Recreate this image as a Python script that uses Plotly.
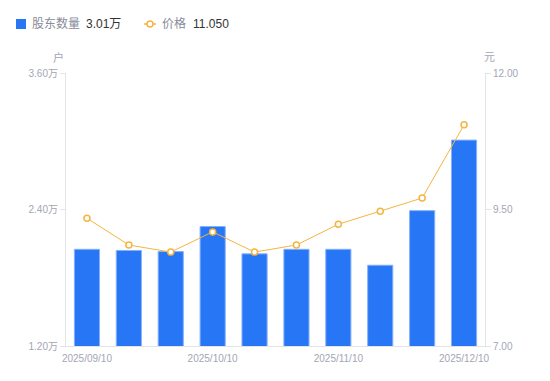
import plotly.graph_objects as go

dates = ["2025/09/10", "2025/09/20", "2025/09/30", "2025/10/10", "2025/10/20",
         "2025/10/31", "2025/11/10", "2025/11/20", "2025/11/30", "2025/12/10"]
holders = [2.05, 2.04, 2.03, 2.25, 2.01, 2.05, 2.05, 1.91, 2.39, 3.01]  # 万户
price = [9.34, 8.85, 8.72, 9.09, 8.72, 8.85, 9.23, 9.47, 9.71, 11.05]
x_ticks = ["2025/09/10", "2025/10/10", "2025/11/10", "2025/12/10"]
left_ticks = [1.2, 2.4, 3.6]
left_labels = ["1.20万", "2.40万", "3.60万"]
right_ticks = [7.0, 9.5, 12.0]
right_labels = ["7.00", "9.50", "12.00"]
legend_names = ["股东数量", "价格"]
legend_values = ["3.01万", "11.050"]

GREY = "#a3a6b4"
LGREY = "#888b99"
DARK = "#333333"
BLUE = "#2776f5"
ORANGE = "#f5b540"
FONT = "Liberation Sans, Noto Sans CJK SC, sans-serif"

OFF = 8  # page body margin
W, H = 550, 381
# plot area in page pixels: x 66..485, y 73..346
L, T = 66 - OFF, 73 - OFF
R, B = W - (485 - OFF), H - (346 - OFF)
PW, PH = W - L - R, H - T - B


def px(x):
    return (x - OFF - L) / PW


def py(y):
    return (H - B - (y - OFF)) / PH


fig = go.Figure()
fig.add_trace(go.Bar(
    x=dates, y=holders, yaxis="y", name=legend_names[0],
    marker=dict(color=BLUE, line=dict(color="#86b0fa", width=1)),
    width=0.6,
))
fig.add_trace(go.Scatter(
    x=dates, y=price, yaxis="y2", mode="lines+markers", name=legend_names[1],
    line=dict(color=ORANGE, width=1),
    marker=dict(symbol="circle", size=6, color="white", line=dict(color=ORANGE, width=1.5)),
))

axis_common = dict(showline=True, linecolor="#e3e4e8", linewidth=1, showgrid=False,
                   zeroline=False, automargin=False)

fig.update_layout(
    width=W, height=H,
    margin=dict(l=L, r=R, t=T, b=B, autoexpand=False),
    paper_bgcolor="white", plot_bgcolor="white",
    font=dict(family=FONT, size=11, color=GREY),
    showlegend=False,
    xaxis=dict(type="category", categoryorder="array", categoryarray=dates,
               tickvals=x_ticks, ticktext=x_ticks, ticks="", ticklabelstandoff=3,
               tickfont=dict(size=10, color=GREY), range=[-0.5, 9.5], **axis_common),
    yaxis=dict(range=[1.2, 3.6], tickvals=left_ticks, ticktext=left_labels,
               ticks="outside", ticklen=5, tickcolor="#e3e4e8",
               tickfont=dict(size=10, color=GREY), **axis_common),
    yaxis2=dict(range=[7.0, 12.0], tickvals=right_ticks, ticktext=right_labels,
                overlaying="y", side="right", ticks="outside", ticklen=5,
                tickcolor="#e3e4e8", tickfont=dict(size=10, color=GREY), **axis_common),
)

shapes = [
    dict(type="rect", xref="paper", yref="paper", x0=px(16), x1=px(26), y0=py(29), y1=py(19),
         fillcolor=BLUE, line=dict(width=0)),
    dict(type="line", xref="paper", yref="paper", x0=px(144), x1=px(156), y0=py(24), y1=py(24),
         line=dict(color=ORANGE, width=1.5)),
    dict(type="circle", xref="paper", yref="paper", x0=px(147), x1=px(153), y0=py(27), y1=py(21),
         fillcolor="white", line=dict(color=ORANGE, width=1.5)),
]
anns = [
    dict(text=legend_names[0], x=px(30), y=py(24), xanchor="left",
         font=dict(size=12, color=LGREY)),
    dict(text=legend_values[0], x=px(84), y=py(24), xanchor="left",
         font=dict(size=12, color=DARK)),
    dict(text=legend_names[1], x=px(160), y=py(24), xanchor="left",
         font=dict(size=12, color=LGREY)),
    dict(text=legend_values[1], x=px(191), y=py(24), xanchor="left",
         font=dict(size=12, color=DARK)),
    dict(text="户", x=px(58), y=py(57), xanchor="center", font=dict(size=11, color=GREY)),
    dict(text="元", x=px(490), y=py(57), xanchor="center", font=dict(size=11, color=GREY)),
]
for a in anns:
    a.update(xref="paper", yref="paper", showarrow=False, yanchor="middle")
    a["font"]["family"] = FONT
fig.update_layout(shapes=shapes, annotations=anns)

fig.write_html("out.html")
